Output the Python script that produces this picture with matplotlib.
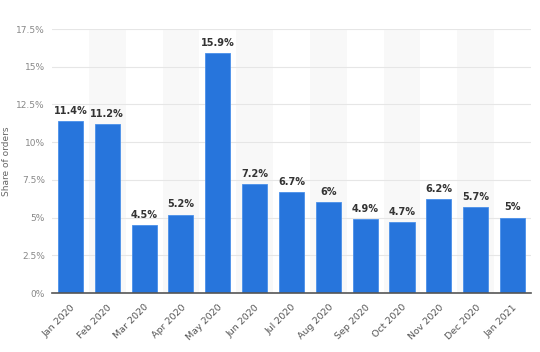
import matplotlib
matplotlib.use('Agg')
import matplotlib.pyplot as plt

# Datos
months = ["Jan 2020", "Feb 2020", "Mar 2020", "Apr 2020", "May 2020", "Jun 2020",
          "Jul 2020", "Aug 2020", "Sep 2020", "Oct 2020", "Nov 2020", "Dec 2020",
          "Jan 2021"]
share = [11.4, 11.2, 4.5, 5.2, 15.9, 7.2, 6.7, 6.0, 4.9, 4.7, 6.2, 5.7, 5.0]
labels = ["11.4%", "11.2%", "4.5%", "5.2%", "15.9%", "7.2%", "6.7%", "6%",
          "4.9%", "4.7%", "6.2%", "5.7%", "5%"]
yticks = [0, 2.5, 5, 7.5, 10, 12.5, 15, 17.5]
ytick_labels = ["0%", "2.5%", "5%", "7.5%", "10%", "12.5%", "15%", "17.5%"]

fig = plt.figure(figsize=(5.4, 3.52), dpi=100)
ax = fig.add_axes([0.0963, 0.1676, 0.887, 0.75])

x = range(len(months))

# bandas alternas
for i in x:
    if i % 2 == 1:
        ax.axvspan(i - 0.5, i + 0.5, color="#f8f8f8", zorder=0, lw=0)

ax.grid(axis="y", color="#e6e6e6", lw=0.8, zorder=1)
ax.bar(x, share, width=0.68, color="#2775dc", edgecolor="#4a90ea", lw=0.6, zorder=2)

for i, v in enumerate(share):
    ax.text(i, v + 0.35, labels[i], ha="center", va="bottom", fontsize=7,
            fontweight="semibold", color="#333333")

ax.set_xlim(-0.5, len(months) - 0.5)
ax.set_ylim(0, 17.5)
ax.set_yticks(yticks)
ax.set_yticklabels(ytick_labels, fontsize=6.5, color="#888888")
ax.set_xticks(list(x))
ax.set_xticklabels(months, rotation=45, ha="right", rotation_mode="anchor",
                   fontsize=6.8, color="#555555")
ax.tick_params(length=0, pad=5)
ax.tick_params(axis="x", pad=7)
ax.set_ylabel("Share of orders", fontsize=6.5, color="#666666")
ax.yaxis.set_label_coords(-0.085, 0.5)

for s in ["top", "right", "left"]:
    ax.spines[s].set_visible(False)
ax.spines["bottom"].set_color("#555555")
ax.spines["bottom"].set_linewidth(1.2)

fig.savefig("out.png", dpi=100)
